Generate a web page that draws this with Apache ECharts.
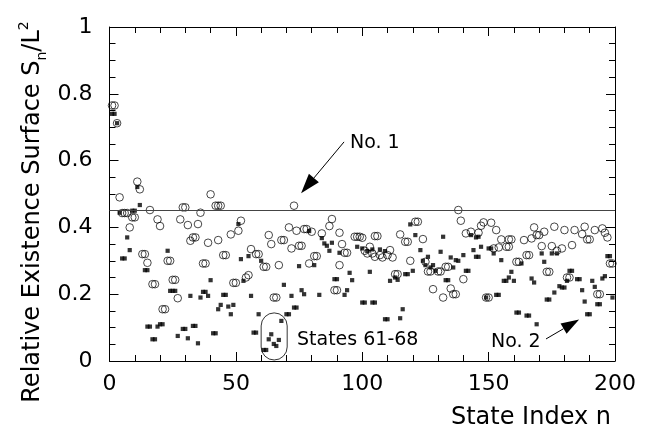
<!DOCTYPE html>
<html>
<head>
<meta charset="utf-8">
<script src="https://cdn.jsdelivr.net/npm/echarts@6/dist/echarts.min.js"></script>
<style>
html,body{margin:0;padding:0;background:#fff;}
#chart{width:652px;height:438px;}
</style>
</head>
<body>
<div id="chart"></div>
<script>
// open circles (state index n, S_n/L^2)
var circles = [
	[1,0.765],[2,0.765],[3,0.712],[4,0.49],[5,0.443],[6,0.443],[7,0.443],[8,0.40],[9,0.43],[10,0.43],
	[11,0.537],[12,0.514],[13,0.32],[14,0.32],[15,0.294],[16,0.452],[17,0.23],[18,0.23],[19,0.424],[20,0.404],
	[21,0.155],[22,0.155],[23,0.30],[24,0.30],[25,0.243],[26,0.243],[27,0.188],[28,0.424],[29,0.46],[30,0.46],
	[31,0.407],[32,0.36],[33,0.37],[34,0.37],[35,0.41],[36,0.444],[37,0.292],[38,0.292],[39,0.354],[40,0.499],
	[42,0.465],[43,0.465],[44,0.465],[43,0.362],[45,0.317],[46,0.317],[48,0.379],[49,0.234],[50,0.234],[51,0.39],
	[52,0.42],[54,0.25],[55,0.257],[56,0.335],[58,0.32],[59,0.32],[61,0.282],[62,0.282],[63,0.377],[64,0.35],
	[65,0.19],[66,0.19],[67,0.287],[68,0.362],[69,0.362],[71,0.40],[72,0.337],[73,0.465],[74,0.39],[75,0.345],
	[76,0.345],[77,0.395],[78,0.395],[79,0.292],[80,0.387],[81,0.314],[82,0.314],[84,0.382],[87,0.404],[88,0.425],
	[89,0.212],[90,0.212],[91,0.384],[91,0.287],[92,0.35],[93,0.324],[94,0.324],[97,0.372],[98,0.372],[99,0.372],
	[100,0.369],[101,0.33],[102,0.322],[103,0.342],[104,0.322],[105,0.374],[106,0.374],[105,0.312],[107,0.317],[108,0.31],
	[110,0.317],[111,0.332],[112,0.31],[113,0.26],[114,0.26],[115,0.379],[117,0.357],[118,0.357],[119,0.30],[121,0.417],
	[122,0.417],[124,0.365],[125,0.297],[126,0.268],[127,0.268],[128,0.215],[130,0.268],[131,0.268],[132,0.19],[133,0.282],
	[134,0.282],[135,0.217],[136,0.20],[137,0.20],[138,0.452],[139,0.42],[140,0.245],[141,0.382],[143,0.387],[146,0.384],
	[147,0.405],[148,0.415],[149,0.19],[150,0.19],[151,0.414],[152,0.337],[153,0.392],[154,0.34],[155,0.364],[157,0.342],
	[158,0.342],[158,0.364],[159,0.364],[161,0.297],[162,0.297],[164,0.362],[165,0.317],[166,0.317],[167,0.367],[168,0.40],
	[169,0.377],[170,0.377],[171,0.344],[172,0.387],[173,0.267],[174,0.267],[175,0.344],[176,0.402],[177,0.33],[179,0.337],
	[180,0.392],[181,0.25],[182,0.25],[183,0.347],[184,0.392],[187,0.38],[188,0.402],[189,0.364],[190,0.364],[192,0.392],
	[193,0.2],[194,0.2],[195,0.397],[196,0.384],[197,0.37],[198,0.292],[199,0.292]
];
// filled squares
var squares = [
	[1,0.74],[2,0.74],[3,0.712],[4,0.444],[5,0.307],[6,0.307],[7,0.37],[8,0.332],[9,0.45],[10,0.45],
	[11,0.521],[12,0.467],[14,0.272],[15,0.272],[15,0.103],[16,0.103],[17,0.065],[18,0.065],[19,0.103],[20,0.11],
	[21,0.11],[23,0.33],[24,0.21],[25,0.21],[26,0.21],[27,0.075],[29,0.096],[30,0.096],[31,0.068],[32,0.195],
	[33,0.105],[34,0.105],[35,0.053],[36,0.19],[37,0.207],[38,0.207],[39,0.195],[40,0.242],[41,0.083],[42,0.083],
	[43,0.155],[44,0.168],[45,0.198],[46,0.198],[47,0.163],[48,0.14],[49,0.168],[51,0.41],[52,0.305],[53,0.24],
	[55,0.314],[56,0.195],[57,0.085],[58,0.085],[59,0.14],[60,0.30],[61,0.033],[62,0.033],[63,0.065],[64,0.08],
	[65,0.051],[66,0.045],[67,0.063],[68,0.12],[69,0.228],[70,0.14],[71,0.14],[72,0.195],[73,0.16],[74,0.16],
	[75,0.284],[76,0.212],[77,0.2],[79,0.389],[81,0.287],[83,0.198],[84,0.368],[85,0.352],[86,0.345],[87,0.33],
	[88,0.354],[89,0.245],[90,0.245],[91,0.324],[93,0.198],[94,0.212],[95,0.264],[96,0.242],[98,0.342],[100,0.337],
	[100,0.175],[101,0.175],[102,0.329],[103,0.267],[104,0.334],[104,0.175],[105,0.175],[107,0.334],[109,0.329],[109,0.125],
	[110,0.125],[111,0.24],[113,0.25],[114,0.243],[115,0.128],[116,0.155],[117,0.26],[118,0.26],[119,0.409],[120,0.27],
	[121,0.377],[123,0.332],[124,0.3],[125,0.287],[126,0.312],[127,0.28],[128,0.287],[129,0.27],[131,0.327],[132,0.372],
	[133,0.242],[134,0.242],[135,0.31],[136,0.28],[137,0.302],[138,0.3],[140,0.317],[141,0.27],[142,0.27],[143,0.377],
	[144,0.332],[145,0.37],[145,0.312],[146,0.312],[146,0.372],[147,0.342],[149,0.19],[150,0.337],[151,0.337],[152,0.322],
	[153,0.198],[154,0.198],[155,0.302],[156,0.24],[157,0.24],[158,0.25],[159,0.267],[160,0.24],[161,0.145],[162,0.145],
	[163,0.292],[165,0.136],[166,0.136],[167,0.247],[168,0.235],[169,0.11],[171,0.322],[172,0.297],[173,0.184],[174,0.184],
	[175,0.322],[176,0.205],[177,0.322],[178,0.224],[179,0.22],[180,0.22],[181,0.24],[182,0.27],[183,0.27],[185,0.245],
	[186,0.245],[187,0.212],[188,0.178],[189,0.14],[190,0.14],[191,0.24],[192,0.222],[193,0.17],[194,0.17],[195,0.247],
	[196,0.254],[197,0.314],[198,0.314],[199,0.19]
];
var refLevel = 0.45;
var xRange = [0, 200];
var yRange = [0, 1];

var font = 'DejaVu Sans';

function frameAxis(pos, range, interval, minorSplit, showLabel){
	return {
		type: 'value',
		position: pos,
		min: range[0],
		max: range[1],
		interval: interval,
		axisLine: {show: true, onZero: false, lineStyle: {color: '#000', width: 1}},
		axisTick: {show: true, inside: true, length: 9, lineStyle: {color: '#000', width: 1}},
		minorTick: {show: true, splitNumber: minorSplit, length: 6, lineStyle: {color: '#000', width: 1}},
		splitLine: {show: false},
		minorSplitLine: {show: false},
		axisLabel: {show: showLabel, color: '#000', fontSize: 22, fontFamily: font}
	};
}

var xBottom = frameAxis('bottom', xRange, 50, 5, true);
xBottom.axisLabel.margin = 12;
var xTop = frameAxis('top', xRange, 50, 5, false);
var yLeft = frameAxis('left', yRange, 0.2, 4, true);
yLeft.axisLabel.margin = 17;
var yRight = frameAxis('right', yRange, 0.2, 4, false);

var chart = echarts.init(document.getElementById('chart'));
var option = {
	animation: false,
	backgroundColor: '#fff',
	grid: {left: 109.5, right: 37, top: 27, bottom: 77, containLabel: false, outerBoundsMode: 'none'},
	xAxis: [xBottom, xTop],
	yAxis: [yLeft, yRight],
	series: [
		{
			name: 'circles',
			type: 'scatter',
			data: circles,
			symbol: 'circle',
			symbolSize: 7.6,
			itemStyle: {color: 'rgba(0,0,0,0)', borderColor: '#000', borderWidth: 0.9},
			markLine: {
				silent: true,
				symbol: 'none',
				label: {show: false},
				lineStyle: {color: '#444', type: 'solid', width: 1},
				data: [{yAxis: refLevel}]
			}
		},
		{
			name: 'squares',
			type: 'scatter',
			data: squares,
			symbol: 'rect',
			symbolSize: [4.2, 4.2],
			itemStyle: {color: '#000'}
		}
	]
};
chart.setOption(option);

// annotations placed in data space
function toPx(p){ return chart.convertToPixel({gridIndex: 0}, p); }

function arrow(from, tip, len, wid){
	var a = toPx(from), b = toPx(tip);
	var dx = b[0] - a[0], dy = b[1] - a[1];
	var d = Math.sqrt(dx * dx + dy * dy);
	var ux = dx / d, uy = dy / d;
	var bx = b[0] - ux * len, by = b[1] - uy * len;
	return [
		{type: 'line', z: 100, shape: {x1: a[0], y1: a[1], x2: bx, y2: by}, style: {stroke: '#000', lineWidth: 1}},
		{type: 'polygon', z: 100, shape: {points: [[b[0], b[1]], [bx - uy * wid / 2, by + ux * wid / 2], [bx + uy * wid / 2, by - ux * wid / 2]]}, style: {fill: '#000'}}
	];
}

var ovTL = toPx([60.0, 0.144]), ovBR = toPx([70.3, 0.003]);
var graphics = [].concat(
	arrow([92.8, 0.656], [75.8, 0.502], 20, 13),
	arrow([172.7, 0.066], [185.8, 0.124], 18, 12),
	[
		{type: 'rect', z: 100, shape: {x: ovTL[0], y: ovTL[1], width: ovBR[0] - ovTL[0], height: ovBR[1] - ovTL[1], r: (ovBR[0] - ovTL[0]) / 2},
			style: {fill: 'none', stroke: '#000', lineWidth: 0.8}},
		{type: 'text', z: 100, x: 350, y: 143, style: {text: 'No. 1', fontSize: 19, fontFamily: font, fill: '#000', align: 'left', verticalAlign: 'middle'}},
		{type: 'text', z: 100, x: 491, y: 342, style: {text: 'No. 2', fontSize: 19, fontFamily: font, fill: '#000', align: 'left', verticalAlign: 'middle'}},
		{type: 'text', z: 100, x: 297, y: 340, style: {text: 'States 61-68', fontSize: 19, fontFamily: font, fill: '#000', align: 'left', verticalAlign: 'middle'}},
		{type: 'text', z: 100, x: 531, y: 418, style: {text: 'State Index n', fontSize: 24, fontFamily: font, fill: '#000', align: 'center', verticalAlign: 'middle'}},
		{type: 'text', z: 100, x: 33, y: 212, rotation: Math.PI / 2,
			style: {
				text: 'Relative Existence Surface S{sub|n}/L{sup|2}',
				fontSize: 24, fontFamily: font, fill: '#000', align: 'center', verticalAlign: 'middle', lineHeight: 32,
				rich: {
					sub: {fontSize: 14, fontFamily: font, fill: '#000', verticalAlign: 'bottom', lineHeight: 32},
					sup: {fontSize: 14, fontFamily: font, fill: '#000', verticalAlign: 'top', lineHeight: 32}
				}
			}}
	]
);
chart.setOption({graphic: graphics});
</script>
</body>
</html>
